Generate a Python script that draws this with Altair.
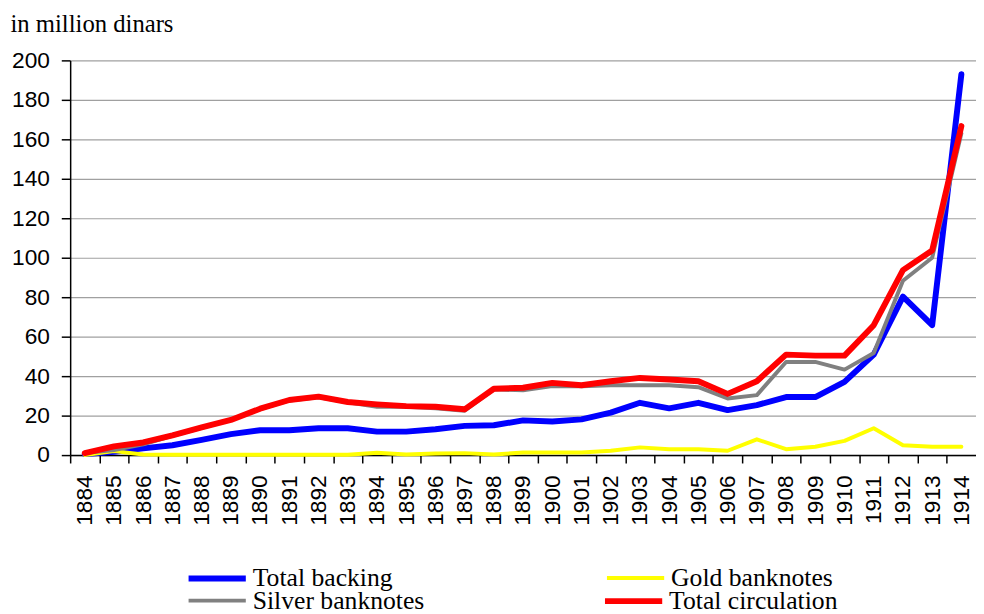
import altair as alt
import pandas as pd

years = list(range(1884, 1915))
total_backing = [0.5, 1.7, 3.4, 5.0, 7.7, 10.6, 12.6, 12.6, 13.6, 13.6, 11.9, 11.9, 13.1, 14.8, 15.1,
                 17.6, 17.0, 18.1, 21.5, 26.5, 23.7, 26.5, 22.8, 25.3, 29.4, 29.4, 37.1, 50.9, 80.3, 65.8, 193.0]
gold_banknotes = [0.0, 2.0, 0.3, 0.2, 0.2, 0.2, 0.2, 0.2, 0.2, 0.2, 1.2, 0.3, 0.8, 1.0, 0.3,
                  1.3, 1.3, 1.3, 2.2, 3.9, 3.0, 3.0, 2.2, 8.0, 3.0, 4.2, 7.2, 13.6, 5.0, 4.2, 4.2]
silver_banknotes = [1.0, 2.5, 5.5, 9.8, 13.8, 17.8, 23.3, 27.7, 29.3, 26.7, 24.5, 24.5, 23.7, 22.5, 33.3,
                    32.8, 35.0, 34.9, 35.4, 35.4, 35.4, 34.4, 28.7, 30.4, 47.2, 47.2, 43.3, 51.7, 88.3, 100.0, 163.0]
total_circulation = [1.0, 4.4, 6.4, 10.0, 14.0, 17.8, 23.5, 27.9, 29.6, 26.9, 25.7, 24.8, 24.5, 23.2, 33.6,
                     34.1, 36.6, 35.4, 37.4, 39.1, 38.3, 37.4, 31.0, 37.4, 50.9, 50.4, 50.4, 65.8, 93.7, 103.7, 166.7]

series_names = ["Total backing", "Gold banknotes", "Silver banknotes", "Total circulation"]
series_colors = ["#0000FF", "#FFFF00", "#808080", "#FF0000"]
series_widths = [6, 4, 4, 6]
y_ticks = list(range(0, 201, 20))

series_values = [total_backing, gold_banknotes, silver_banknotes, total_circulation]
rows = []
for name, vals in zip(series_names, series_values):
    for yr, v in zip(years, vals):
        rows.append({"year": yr, "value": v, "series": name})
df = pd.DataFrame(rows)

x_scale = alt.Scale(domain=[1883.5, 1914.5], nice=False, zero=False)
y_scale = alt.Scale(domain=[0, 200], nice=False)

half_step = 918 / 31 / 2  # ticks sit between categories, labels on them

x_axis = alt.Axis(
    orient="bottom",
    values=years,
    format="d",
    labelAngle=270,
    labelFont="Liberation Sans",
    labelFontSize=23,
    labelColor="black",
    labelPadding=12,
    labelOverlap=False,
    labelFlush=False,
    labelLimit=300,
    labelOffset=half_step,
    tickOffset=-half_step,
    ticks=True,
    tickSize=8,
    tickWidth=1.5,
    tickColor="black",
    domainColor="black",
    domainWidth=1.5,
    grid=False,
    title=None,
)

y_axis = alt.Axis(
    values=y_ticks,
    labelFont="Liberation Sans",
    labelFontSize=23,
    labelColor="black",
    labelPadding=12,
    tickSize=9,
    tickWidth=1.5,
    tickColor="black",
    domainColor="black",
    domainWidth=1.5,
    grid=True,
    gridColor="#a0a0a0",
    gridWidth=1.2,
    title="in million dinars",
    titleAngle=0,
    titleFont="Liberation Serif",
    titleFontSize=25,
    titleFontWeight="normal",
    titleColor="black",
    titleAlign="left",
    titleBaseline="alphabetic",
    titleX=-61,
    titleY=-29,
)


def make_legend(y, col_pad):
    return alt.Legend(
        title=None,
        orient="none",
        legendX=117,
        legendY=y,
        columns=2,
        direction="horizontal",
        columnPadding=col_pad,
        symbolType="stroke",
        symbolSize=3364,
        labelFont="Liberation Serif",
        labelFontSize=26,
        labelColor="black",
        labelOffset=4,
        labelLimit=400,
    )


def pair_layer(names, legend):
    idx = [series_names.index(n) for n in names]
    cscale = alt.Scale(domain=names, range=[series_colors[i] for i in idx])
    wscale = alt.Scale(type="ordinal", domain=names, range=[series_widths[i] for i in idx])
    charts = []
    for name in names:
        charts.append(
            alt.Chart(df)
            .transform_filter(alt.datum.series == name)
            .mark_line(strokeCap="round", strokeJoin="round")
            .encode(
                x=alt.X("year:Q", scale=x_scale, axis=x_axis),
                y=alt.Y("value:Q", scale=y_scale, axis=y_axis),
                color=alt.Color("series:N", scale=cscale, legend=legend),
                strokeWidth=alt.StrokeWidth("series:N", scale=wscale, legend=legend),
            )
        )
    return alt.layer(*charts)


row1 = pair_layer(["Total backing", "Gold banknotes"], make_legend(493, 209))
row2 = pair_layer(["Silver banknotes", "Total circulation"], make_legend(516, 170))

chart = (
    alt.layer(row1, row2)
    .resolve_scale(color="independent", strokeWidth="independent")
    .properties(
        width=918,
        height=400,
        background="white",
        autosize=alt.AutoSizeParams(type="none"),
        padding={"left": 63, "top": 49, "right": 0, "bottom": 160},
    )
    .configure_view(stroke=None)
)

chart.save("out.html", embed_options={"renderer": "svg", "actions": False})
